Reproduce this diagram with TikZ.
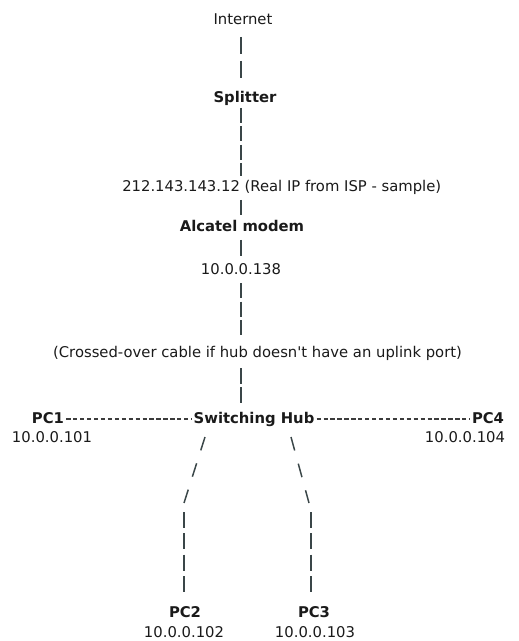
\documentclass[tikz,border=0pt]{standalone}
\usepackage{fontspec}
\setmainfont{DejaVu Sans}
\usetikzlibrary{calc}
\definecolor{ink}{RGB}{26,26,26}
\definecolor{barc}{RGB}{58,70,72}
\begin{document}
\begin{tikzpicture}[x=0.75pt,y=-0.75pt,
  lbl/.style={inner sep=0pt,text height=9.5pt,text depth=1.5pt,text=ink,
    font=\fontsize{11.1}{13}\selectfont},
  blbl/.style={lbl,font=\fontsize{11.1}{13}\selectfont\bfseries},
  trunk/.style={draw=barc,line width=1.1pt},
  hdash/.style={draw=ink!85,line width=1pt,dash pattern=on 3.2pt off 2pt},
]
\fill[white] (0,0) rectangle (518,641);
\useasboundingbox (0,0) rectangle (518,641);

% labels
\node[lbl]  (inet)  at (243,19)  {Internet};
\node[blbl] (split) at (245,97)  {Splitter};
\node[lbl,anchor=west] (wan) at (122,186) {212.143.143.12 (Real IP from ISP - sample)};
\node[blbl] (modem) at (242,226) {Alcatel modem};
\node[lbl]  (lan)   at (241,269) {10.0.0.138};
\node[lbl]  (cable) at (257.5,352) {(Crossed-over cable if hub doesn\textquotesingle t have an uplink port)};
\node[blbl] (hub)   at (254,418) {Switching Hub};
\node[blbl] (pc1)   at (48,418)  {PC1};
\node[lbl]  (ip1)   at (52,437)  {10.0.0.101};
\node[blbl] (pc4)   at (488,418) {PC4};
\node[lbl]  (ip4)   at (465,437) {10.0.0.104};
\node[blbl] (pc2)   at (185,612) {PC2};
\node[lbl]  (ip2)   at (184,632) {10.0.0.102};
\node[blbl] (pc3)   at (314,612) {PC3};
\node[lbl]  (ip3)   at (315,632) {10.0.0.103};

% helper points for the cable runs
\coordinate (axis)  at (241,0);
\coordinate (lbend) at (184,508);
\coordinate (rbend) at (311,508);

% vertical trunk, drawn as stacked bars
\draw[trunk,dash pattern=on 12.75pt off 5.25pt]
  ($(inet.center -| axis)+(0,18)$) -- ($(split.center -| axis)+(0,-19)$);
\draw[trunk,dash pattern=on 11.25pt off 2.625pt]
  ($(split.center -| axis)+(0,11)$) -- ($(wan.center -| axis)+(0,-10)$);
\draw[trunk]
  ($(wan.center -| axis)+(0,14)$) -- ($(modem.center -| axis)+(0,-11)$);
\draw[trunk]
  ($(modem.center -| axis)+(0,14)$) -- ($(lan.center -| axis)+(0,-13)$);
\draw[trunk,dash pattern=on 11.25pt off 2.625pt]
  ($(lan.center -| axis)+(0,14)$) -- ($(cable.center -| axis)+(0,-17)$);
\draw[trunk,dash pattern=on 12pt off 2.25pt]
  ($(cable.center -| axis)+(0,16)$) -- ($(hub.center -| axis)+(0,-15)$);

% hub to PC1 and PC4
\draw[hdash,shorten <=1.5pt,shorten >=1.5pt]
  ([yshift=-0.75pt]pc1.east) -- ([yshift=-0.75pt]hub.west);
\draw[hdash,shorten <=1.5pt,shorten >=1.5pt]
  ([yshift=-0.75pt]hub.east) -- ([yshift=-0.75pt]pc4.west);

% hub to PC2
\draw[trunk,dash pattern=on 10.5pt off 10.2pt]
  ($(hub.center)+(-49,19)$) -- ($(lbend)+(0,-5)$);
\draw[trunk,dash pattern=on 12pt off 4pt]
  ($(lbend)+(0,4)$) -- ($(pc2.center -| lbend)+(0,-18)$);

% hub to PC3
\draw[trunk,dash pattern=on 10.5pt off 10.2pt]
  ($(hub.center)+(37,19)$) -- ($(rbend)+(-2,-5)$);
\draw[trunk,dash pattern=on 12pt off 4pt]
  ($(rbend)+(0,4)$) -- ($(pc3.center -| rbend)+(0,-18)$);
\end{tikzpicture}
\end{document}
